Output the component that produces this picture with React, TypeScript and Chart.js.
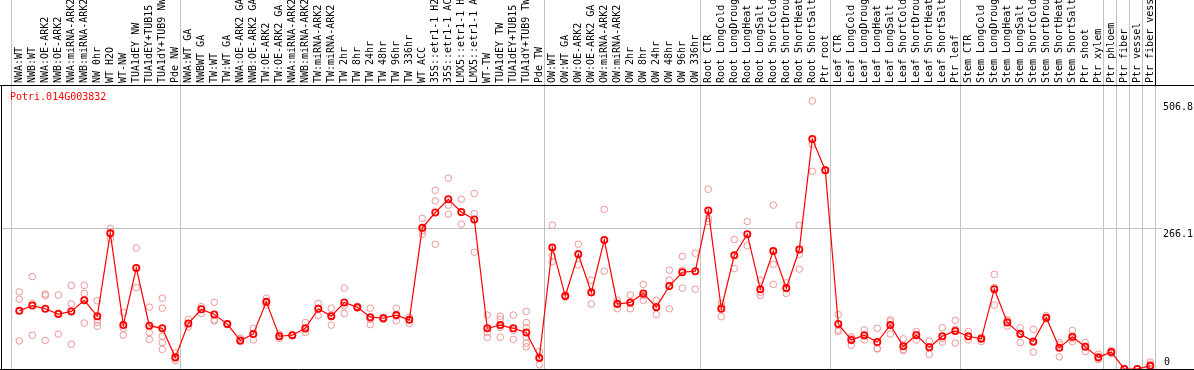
import React, { useEffect, useRef } from "react";
import { Chart, registerables } from "chart.js";

Chart.register(...registerables);

const geneName = "Potri.014G003832";

const categories = [
  "NWA:WT", "NWB:WT", "NWA:OE-ARK2", "NWB:OE-ARK2", "NWA:miRNA-ARK2", "NWB:miRNA-ARK2", "NW 0hr", "WT H2O", "WT-NW", "TUA1dEY NW", "TUA1dEY+TUB15 NW", "TUA1dY+TUB9 NW", "Pde NW",
  "NWA:WT GA", "NWBWT GA", "TW:WT", "TW:WT GA", "NWA:OE-ARK2 GA", "NWB:OE-ARK2 GA", "TW:OE-ARK2", "TW:OE-ARK2 GA", "NWA:miRNA-ARK2", "NWB:miRNA-ARK2", "TW:miRNA-ARK2", "TW:miRNA-ARK2", "TW 2hr", "TW 8hr", "TW 24hr", "TW 48hr", "TW 96hr", "TW 336hr", "WT ACC", "35S::etr1-1 H2O", "35S::etr1-1 ACC", "LMX5::etr1-1 H2O", "LMX5::etr1-1 ACC", "WT-TW", "TUA1dEY TW", "TUA1dEY+TUB15 TW", "TUA1dY+TUB9 TW", "Pde TW",
  "OW:WT", "OW:WT GA", "OW:OE-ARK2", "OW:OE-ARK2 GA", "OW:miRNA-ARK2", "OW:miRNA-ARK2", "OW 2hr", "OW 8hr", "OW 24hr", "OW 48hr", "OW 96hr", "OW 336hr",
  "Root CTR", "Root LongCold", "Root LongDrought", "Root LongHeat", "Root LongSalt", "Root ShortCold", "Root ShortDrought", "Root ShortHeat", "Root ShortSalt", "Ptr root",
  "Leaf CTR", "Leaf LongCold", "Leaf LongDrought", "Leaf LongHeat", "Leaf LongSalt", "Leaf ShortCold", "Leaf ShortDrought", "Leaf ShortHeat", "Leaf ShortSalt", "Ptr leaf",
  "Stem CTR", "Stem LongCold", "Stem LongDrought", "Stem LongHeat", "Stem LongSalt", "Stem ShortCold", "Stem ShortDrought", "Stem ShortHeat", "Stem ShortSalt", "Ptr shoot", "Ptr xylem",
  "Ptr phloem", "Ptr fiber", "Ptr vessel", "Ptr fiber vessel",
];

const means = [
  110, 120, 114, 104, 109, 130, 100, 257, 83, 191, 82, 77, 22,
  86, 113, 103, 85, 54, 66, 127, 62, 64, 77, 114, 100, 126, 117, 98, 96, 102, 93, 267, 296, 321, 297, 283, 77, 83, 77, 69, 21,
  230, 138, 217, 145, 244, 123, 126, 143, 117, 157, 183, 185,
  300, 114, 215, 255, 151, 223, 153, 226, 435, 376,
  85, 55, 64, 51, 83, 43, 64, 41, 62, 72,
  62, 57, 151, 88, 66, 52, 97, 40, 61, 42, 22,
  32, 0, 0, 6,
];

const replicates = [
  [146, 132, 53], [175, 124, 64], [142, 139, 54], [140, 106, 66], [158, 123, 47], [158, 143, 87], [129, 94, 88, 81], [266, 246, 258], [107, 77, 64], [229, 154], [117, 69, 56], [134, 115, 62, 50, 37], [30, 16, 20],
  [94, 80, 86], [118, 105, 113], [126, 93, 91], [85, 86, 84], [58, 52, 53], [77, 55, 66], [134, 121, 126], [66, 58, 62], [64, 65, 63], [88, 69, 74], [124, 101, 115], [115, 83, 102], [153, 105, 120], [119, 115, 116], [115, 84, 94], [98, 94, 96], [115, 91, 100], [98, 86, 94], [285, 255, 262], [338, 318, 236], [361, 310, 293], [321, 274, 296], [332, 294, 221], [102, 60, 69], [100, 94, 60, 79], [102, 56, 73], [109, 88, 78, 60, 49, 42], [33, 8, 23],
  [272, 214, 203], [138, 136, 140], [236, 197, 218], [168, 123, 144], [302, 185], [130, 114, 125], [140, 114, 124], [160, 130, 139], [130, 103, 118], [187, 168, 114], [213, 187, 153], [219, 151],
  [340, 285, 279], [124, 99, 118], [245, 190], [279, 233], [168, 139, 145], [310, 198, 160], [163, 143, 152], [272, 217, 189], [506.8, 425, 374], [376, 375, 377],
  [103, 74, 71], [61, 45, 58], [74, 55, 62], [77, 38, 39], [93, 66, 90], [57, 35, 37], [71, 55, 66], [53, 28, 42], [78, 51, 58], [92, 49, 75],
  [71, 55, 61], [52, 60, 58], [179, 121, 154], [93, 81, 91], [78, 50, 68], [75, 32, 50], [101, 95, 96], [50, 23, 46], [73, 52, 58], [50, 33, 43], [28, 20, 18],
  [35, 30, 30], [0, 0, 0], [0, 0, 0], [13, 9, 0],
];

// index of the last category of each group (-1 = left edge)
const groupEnds = [-1, 12, 40, 52, 62, 72, 83, 84, 85, 86, 87];

const yTicks = [0, 266.1, 506.8];

const RED = "#ff0000";
const PINK = "rgb(238,150,150)";
const GRID = "#c0c0c0";
const FONT = '10px "DejaVu Sans Mono", monospace';

const overlay = {
  id: "overlay",
  beforeDatasetsDraw(chart: any) {
    const { ctx, chartArea, scales } = chart;
    const xs = scales.x;
    const ys = scales.y;
    const W = chart.width;
    ctx.save();
    ctx.lineWidth = 1;
    // vertical group separators
    ctx.strokeStyle = GRID;
    for (const e of groupEnds) {
      const px = Math.round(xs.getPixelForValue(e) + 5) + 0.5;
      ctx.beginPath();
      ctx.moveTo(px, 0);
      ctx.lineTo(px, chartArea.bottom);
      ctx.stroke();
    }
    // horizontal grid at middle ticks
    const labelX = W - 31;
    for (let i = 1; i < yTicks.length - 1; i++) {
      const py = Math.round(ys.getPixelForValue(yTicks[i])) + 0.5;
      ctx.beginPath();
      ctx.moveTo(chartArea.left, py);
      ctx.lineTo(labelX - 1, py);
      ctx.stroke();
    }
    // black frame lines
    ctx.strokeStyle = "#000";
    const top = Math.round(chartArea.top) + 0.5;
    ctx.beginPath();
    ctx.moveTo(0, top);
    ctx.lineTo(W, top);
    ctx.stroke();
    ctx.beginPath();
    ctx.moveTo(1.5, top);
    ctx.lineTo(1.5, chartArea.bottom);
    ctx.stroke();
    const bot = Math.round(chartArea.bottom) + 0.5;
    ctx.beginPath();
    ctx.moveTo(0, bot);
    ctx.lineTo(W, bot);
    ctx.stroke();
    // right border of label area
    const lastPx = Math.round(xs.getPixelForValue(groupEnds[groupEnds.length - 1]) + 5) + 0.5;
    ctx.beginPath();
    ctx.moveTo(lastPx, 0);
    ctx.lineTo(lastPx, top);
    ctx.stroke();

    // category labels (rotated)
    ctx.fillStyle = "#000";
    ctx.font = FONT;
    ctx.textAlign = "left";
    ctx.textBaseline = "middle";
    categories.forEach((c, i) => {
      const px = xs.getPixelForValue(i);
      ctx.save();
      ctx.beginPath();
      ctx.rect(0, 0, W, chartArea.top);
      ctx.clip();
      ctx.translate(Math.round(px) + 0.5, chartArea.top - 2);
      ctx.rotate(-Math.PI / 2);
      ctx.fillText(c, 0, 0);
      ctx.restore();
    });

    // gene name
    ctx.fillStyle = RED;
    ctx.textBaseline = "top";
    ctx.fillText(geneName, 10, chartArea.top + 7);

    // y tick labels
    ctx.fillStyle = "#000";
    yTicks.forEach((t, i) => {
      const py = ys.getPixelForValue(t);
      if (i === 0) {
        ctx.textBaseline = "bottom";
        ctx.fillText(String(t), labelX + 1, py - 2);
      } else {
        ctx.textBaseline = "top";
        ctx.fillText(String(t), labelX, py + 1);
      }
    });
    ctx.restore();
  },
};

export default function App() {
  const ref = useRef<HTMLCanvasElement | null>(null);
  useEffect(() => {
    document.body.style.margin = "0";
    const canvas = ref.current;
    if (!canvas) return;
    const repData: { x: number; y: number }[] = [];
    replicates.forEach((arr, i) => arr.forEach((v) => repData.push({ x: i, y: v })));
    const meanData = means.map((v, i) => ({ x: i, y: v }));
    const left = 2;
    const width = 1194;
    const xMin = -(19.3 - left) / 13;
    const xMax = xMin + (width - left) / 13;
    const chart = new Chart(canvas, {
      type: "scatter",
      data: {
        datasets: [
          {
            label: "mean",
            data: meanData,
            showLine: true,
            borderColor: RED,
            borderWidth: 1.2,
            pointRadius: 3.1,
            pointBorderWidth: 1.8,
            pointBorderColor: RED,
            pointBackgroundColor: "rgba(0,0,0,0)",
            order: 0,
          },
          {
            label: "replicates",
            data: repData,
            showLine: false,
            pointRadius: 3.3,
            pointBorderWidth: 1,
            pointBorderColor: PINK,
            pointBackgroundColor: "rgba(0,0,0,0)",
            order: 1,
          },
        ],
      },
      options: {
        responsive: false,
        animation: false,
        devicePixelRatio: 1,
        layout: { autoPadding: false, padding: { top: 85, left: left, right: 0, bottom: 1 } },
        plugins: { legend: { display: false }, tooltip: { enabled: false } },
        scales: {
          x: { type: "linear", display: false, min: xMin, max: xMax },
          y: { type: "linear", display: false, min: 0, max: yTicks[2] * 1.06 },
        },
      },
      plugins: [overlay],
    } as any);
    return () => chart.destroy();
  }, []);
  return (
    <div style={{ position: "absolute", left: 0, top: 0, width: 1194, height: 370, background: "#fff" }}>
      <canvas ref={ref} width={1194} height={370} style={{ width: 1194, height: 370, display: "block" }} />
    </div>
  );
}
